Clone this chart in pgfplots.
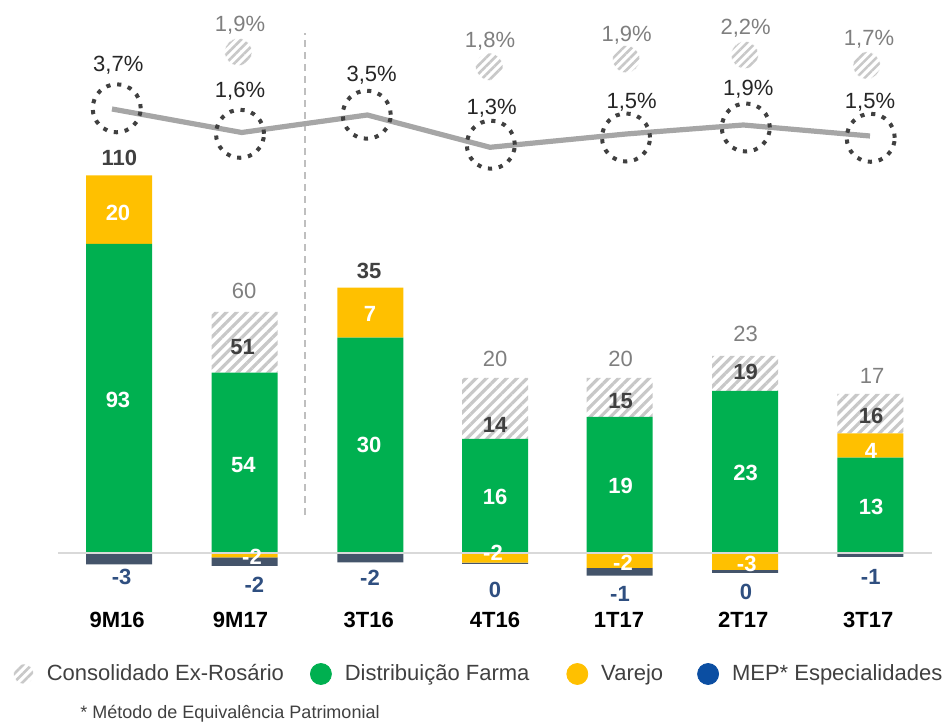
\documentclass[border=0pt]{standalone}
\usepackage{fontspec}
\setmainfont{Liberation Sans}
\usepackage{pgfplots}
\pgfplotsset{compat=1.18}
\usetikzlibrary{patterns.meta}
\definecolor{cGreen}{HTML}{00B050}
\definecolor{cYellow}{HTML}{FFC000}
\definecolor{cMep}{HTML}{44546A}
\definecolor{cMepLeg}{HTML}{0B4EA2}
\definecolor{cMepTxt}{HTML}{2F4F80}
\definecolor{cHatch}{HTML}{C8C8C8}
\definecolor{cDark}{HTML}{404040}
\definecolor{cPct}{HTML}{262626}
\definecolor{cGrayTxt}{HTML}{7F7F7F}
\definecolor{cLine}{HTML}{A6A6A6}
\pgfplotsset{
  base/.style={scale only axis,width=475.5pt,height=361pt,xmin=0,xmax=951,ymin=-169,ymax=553,hide axis,clip=false},
}
\tikzset{
  hatch/.style={pattern={Lines[angle=45,distance=3.6pt,line width=1.6pt]},pattern color=cHatch},
  hatchs/.style={pattern={Lines[angle=45,distance=3pt,line width=1.3pt]},pattern color=cHatch},
  lab/.style={font=\fontsize{11}{13}\selectfont,inner sep=0pt,text height=7.9pt,text depth=0pt,anchor=center},
  blab/.style={lab,font=\bfseries\fontsize{11}{13}\selectfont},
}
\newcommand{\gap}[1]{\rule{#1}{0pt}}
\begin{document}
\begin{tikzpicture}
% positive segments (heights as drawn, px units)
\begin{axis}[base,ybar stacked,bar width=33pt]
\addplot[fill=cGreen,draw=none] coordinates {(119,309) (244.7,180.3) (370.3,215.3) (495,114) (619.7,136) (745.2,162) (870.3,95.3)};
\addplot[fill=cYellow,draw=none] coordinates {(119,68.7) (244.7,0) (370.3,50) (495,0) (619.7,0) (745.2,0) (870.3,24.4)};
\addplot[hatch,draw=none] coordinates {(119,0) (244.7,60.7) (370.3,0) (495,61) (619.7,39) (745.2,35) (870.3,39.3)};
\end{axis}
% negative segments
\begin{axis}[base,ybar stacked,bar width=33pt]
\addplot[fill=cYellow,draw=none] coordinates {(119,0) (244.7,-4.5) (370.3,0) (495,-9.7) (619.7,-15) (745.2,-17) (870.3,0)};
\addplot[fill=cMep,draw=none] coordinates {(119,-11.3) (244.7,-8.5) (370.3,-9.3) (495,-1.3) (619.7,-7.7) (745.2,-3) (870.3,-4)};
\end{axis}
\begin{axis}[base,legend columns=4,legend cell align=left,
  legend style={at={(axis cs:13,-121)},anchor=west,draw=none,fill=none,inner sep=0pt,
    nodes={inner sep=0pt},font=\fontsize{11}{13}\selectfont,text=cDark,
    /tikz/every odd column/.append style={column sep=6.5pt},
    /tikz/every even column/.append style={column sep=0pt}}]
\coordinate (bl) at (rel axis cs:0,0);
\coordinate (tr) at (rel axis cs:1,1);
\addplot[forget plot,draw=black!15,line width=1pt] coordinates {(58,0) (932,0)};
\addplot[forget plot,draw=black!25,line width=0.75pt,dash pattern=on 3.5pt off 2.5pt] coordinates {(305,38) (305,520)};
\addplot[forget plot,draw=cLine,line width=2.6pt] coordinates {(112,444) (241.7,420.5) (367.3,438) (490,405.7) (626,419) (743.3,428) (870,417)};
\addplot[forget plot,only marks,mark=o,mark size=12pt,mark options={draw=cDark,line width=2pt,dash pattern=on 2.1pt off 3.4pt,line cap=butt}]
  coordinates {(116.7,444.7) (240,419.2) (366.7,438.3) (490.8,408.3) (626,415.5) (745.8,425.5) (870.7,415.2)};
\addplot[forget plot,only marks,mark=*,mark size=6.8pt,mark options={draw=white,line width=0.2pt,hatchs}]
  coordinates {(238.3,501) (489.3,486.3) (626.2,493.8) (744.7,498) (866.7,487.5)};
% legend
\addlegendimage{legend image code/.code={\path[hatchs,draw=white,line width=0.2pt] (0pt,0pt) circle (5pt);}}
\addlegendentry{Consolidado Ex-Rosário\gap{13pt}}
\addlegendimage{legend image code/.code={\fill[cGreen] (0pt,0pt) circle (5.25pt);}}
\addlegendentry{Distribuição Farma\gap{18.5pt}}
\addlegendimage{legend image code/.code={\fill[cYellow] (0pt,0pt) circle (5.25pt);}}
\addlegendentry{Varejo\gap{17pt}}
\addlegendimage{legend image code/.code={\fill[cMepLeg] (0pt,0pt) circle (5.25pt);}}
\addlegendentry{MEP* Especialidades}
% percentages
\node[lab,text=cPct] at (axis cs:118.3,489.7) {3,7\%};
\node[lab,text=cPct] at (axis cs:240,463) {1,6\%};
\node[lab,text=cPct] at (axis cs:371.7,479) {3,5\%};
\node[lab,text=cPct] at (axis cs:491.7,446.3) {1,3\%};
\node[lab,text=cPct] at (axis cs:631.7,452) {1,5\%};
\node[lab,text=cPct] at (axis cs:748.3,465.3) {1,9\%};
\node[lab,text=cPct] at (axis cs:870,452) {1,5\%};
\node[lab,text=cGrayTxt] at (axis cs:240,529) {1,9\%};
\node[lab,text=cGrayTxt] at (axis cs:490,513.7) {1,8\%};
\node[lab,text=cGrayTxt] at (axis cs:626.7,519.7) {1,9\%};
\node[lab,text=cGrayTxt] at (axis cs:745.7,526.3) {2,2\%};
\node[lab,text=cGrayTxt] at (axis cs:869,515.7) {1,7\%};
% totals
\node[blab,text=cDark] at (axis cs:119.3,395.7) {110};
\node[blab,text=cDark] at (axis cs:369,282.3) {35};
\node[lab,text=cGrayTxt] at (axis cs:244,262.3) {60};
\node[lab,text=cGrayTxt] at (axis cs:495,194.7) {20};
\node[lab,text=cGrayTxt] at (axis cs:620.7,194.7) {20};
\node[lab,text=cGrayTxt] at (axis cs:745.7,219.7) {23};
\node[lab,text=cGrayTxt] at (axis cs:872,177.7) {17};
% segment values
\node[blab,text=white] at (axis cs:118,340.3) {20};
\node[blab,text=white] at (axis cs:118,153) {93};
\node[blab,text=cDark] at (axis cs:242.7,206.3) {51};
\node[blab,text=white] at (axis cs:243.3,88.7) {54};
\node[blab,text=white] at (axis cs:370,239.7) {7};
\node[blab,text=white] at (axis cs:369,108) {30};
\node[blab,text=cDark] at (axis cs:495,128.7) {14};
\node[blab,text=white] at (axis cs:495,56.3) {16};
\node[blab,text=cDark] at (axis cs:620.7,152.3) {15};
\node[blab,text=white] at (axis cs:620.7,67.3) {19};
\node[blab,text=cDark] at (axis cs:745.7,181.3) {19};
\node[blab,text=white] at (axis cs:745.7,80.3) {23};
\node[blab,text=cDark] at (axis cs:871,137.3) {16};
\node[blab,text=white] at (axis cs:871,102) {4};
\node[blab,text=white] at (axis cs:871,46.3) {13};
\node[blab,text=white] at (axis cs:252,-3.7) {-2};
\node[blab,text=white] at (axis cs:493,0) {-2};
\node[blab,text=white] at (axis cs:623,-9.3) {-2};
\node[blab,text=white] at (axis cs:746.7,-10.3) {-3};
% MEP values
\node[blab,text=cMepTxt] at (axis cs:121.7,-23.7) {-3};
\node[blab,text=cMepTxt] at (axis cs:254.3,-32) {-2};
\node[blab,text=cMepTxt] at (axis cs:370,-24.7) {-2};
\node[blab,text=cMepTxt] at (axis cs:495,-36.3) {0};
\node[blab,text=cMepTxt] at (axis cs:620,-41) {-1};
\node[blab,text=cMepTxt] at (axis cs:746,-38.7) {0};
\node[blab,text=cMepTxt] at (axis cs:870.7,-23.7) {-1};
% categories
\node[blab,text=black] at (axis cs:117.2,-66.5) {9M16};
\node[blab,text=black] at (axis cs:240.5,-66.5) {9M17};
\node[blab,text=black] at (axis cs:368.7,-66.5) {3T16};
\node[blab,text=black] at (axis cs:495,-66.5) {4T16};
\node[blab,text=black] at (axis cs:619,-66.5) {1T17};
\node[blab,text=black] at (axis cs:743.3,-66.5) {2T17};
\node[blab,text=black] at (axis cs:868.3,-66.5) {3T17};
\node[lab,anchor=west,text=cDark,font=\fontsize{9}{11}\selectfont,text height=6.4pt] at (axis cs:80,-159.5) {* Método de Equivalência Patrimonial};
\end{axis}
\pgfresetboundingbox
\path[use as bounding box] (bl) rectangle (tr);
\end{tikzpicture}
\end{document}
